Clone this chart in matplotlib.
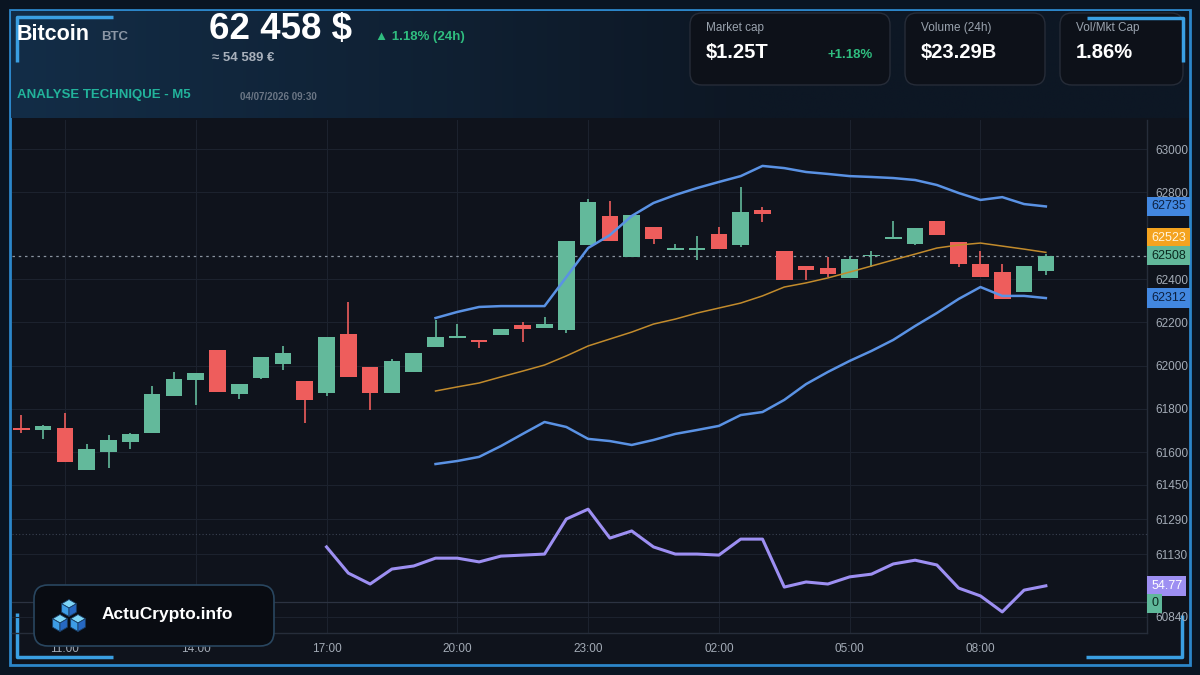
import numpy as np
import matplotlib
matplotlib.use('Agg')
import matplotlib.pyplot as plt
from matplotlib.patches import FancyBboxPatch, Polygon, Rectangle

plt.rcParams['font.family'] = ['Liberation Sans', 'DejaVu Sans']

# ---------------- data ----------------
times = ["10:00", "10:30", "11:00", "11:30", "12:00", "12:30", "13:00", "13:30",
         "14:00", "14:30", "15:00", "15:30", "16:00", "16:30", "17:00", "17:30",
         "18:00", "18:30", "19:00", "19:30", "20:00", "20:30", "21:00", "21:30",
         "22:00", "22:30", "23:00", "23:30", "00:00", "00:30", "01:00", "01:30",
         "02:00", "02:30", "03:00", "03:30", "04:00", "04:30", "05:00", "05:30",
         "06:00", "06:30", "07:00", "07:30", "08:00", "08:30", "09:00", "09:30"]

opens = [61712, 61703, 61712, 61519, 61602, 61648, 61689, 61860, 61934, 62072,
         61869, 61943, 62008, 61929, 61874, 62146, 61994, 61874, 61971, 62086,
         62128, 62119, 62142, 62188, 62174, 62165, 62557, 62691, 62502, 62640,
         62534, 62538, 62608, 62557, 62718, 62529, 62460, 62451, 62405, 62506,
         62589, 62562, 62668, 62571, 62469, 62432, 62340, 62437]
highs = [61772, 61725, 61782, 61639, 61680, 61689, 61906, 61971, 61966, 62072,
         61915, 62040, 62091, 61929, 62132, 62294, 61994, 62031, 62059, 62211,
         62192, 62119, 62169, 62202, 62225, 62575, 62769, 62760, 62695, 62640,
         62562, 62598, 62640, 62825, 62732, 62529, 62460, 62502, 62506, 62529,
         62668, 62635, 62668, 62571, 62529, 62469, 62460, 62515]
lows = [61689, 61662, 61556, 61519, 61528, 61615, 61689, 61860, 61819, 61878,
        61846, 61938, 61980, 61735, 61860, 61948, 61795, 61874, 61971, 62086,
        62128, 62082, 62142, 62109, 62174, 62151, 62557, 62575, 62502, 62562,
        62534, 62488, 62538, 62548, 62663, 62395, 62395, 62409, 62405, 62455,
        62589, 62557, 62603, 62455, 62409, 62308, 62340, 62419]
closes = [61705, 61722, 61556, 61615, 61657, 61685, 61869, 61938, 61966, 61878,
          61915, 62040, 62059, 61842, 62132, 61948, 61874, 62022, 62059, 62132,
          62137, 62109, 62169, 62169, 62192, 62575, 62755, 62575, 62695, 62585,
          62543, 62543, 62538, 62709, 62700, 62395, 62442, 62423, 62492, 62511,
          62594, 62635, 62603, 62469, 62409, 62308, 62460, 62508]

nan = np.nan
bb_upper = [nan] * 19 + [62220, 62248, 62271, 62275, 62275, 62275, 62409, 62543,
                         62603, 62691, 62751, 62788, 62820, 62848, 62875, 62922,
                         62912, 62894, 62885, 62875, 62871, 62866, 62857, 62834,
                         62797, 62765, 62778, 62746, 62735]
bb_middle = [nan] * 19 + [61883, 61902, 61920, 61948, 61975, 62003, 62045, 62091,
                          62123, 62155, 62192, 62215, 62243, 62266, 62289, 62322,
                          62363, 62382, 62405, 62432, 62460, 62488, 62515, 62543,
                          62557, 62566, 62552, 62538, 62523]
bb_lower = [nan] * 19 + [61546, 61560, 61579, 61629, 61685, 61740, 61717, 61662,
                         61652, 61634, 61657, 61685, 61703, 61722, 61772, 61786,
                         61842, 61915, 61971, 62022, 62068, 62119, 62183, 62243,
                         62308, 62363, 62322, 62322, 62312]
rsi = [nan] * 14 + [66.2, 58.5, 55.3, 59.7, 60.6, 62.9, 62.9, 61.8, 63.5, 63.8,
                    64.1, 74.4, 77.3, 68.8, 70.9, 66.2, 64.1, 64.1, 63.8, 68.5,
                    68.5, 54.4, 55.9, 55.3, 57.4, 58.2, 61.2, 62.3, 60.9, 54.1,
                    51.8, 47.1, 53.5, 54.77]

y_ticks = [63000, 62800, 62400, 62200, 62000, 61800, 61600, 61450, 61290, 61130, 60840]
x_tick_labels = ["11:00", "14:00", "17:00", "20:00", "23:00", "02:00", "05:00", "08:00"]
last_price = 62508

# ---------------- style ----------------
GREEN = '#63b99b'
RED = '#ee5d5c'
BLUE = '#5a92e4'
ORANGE = '#c28b2c'
PURPLE = '#9d8ff2'
TXT = '#a3abb6'
PANEL = '#0f131c'

fig = plt.figure(figsize=(12, 6.75), dpi=100, facecolor='#0a1522')

# background / decoration axes in pixel coordinates
bg = fig.add_axes([0, 0, 1, 1], zorder=0)
bg.set_xlim(0, 1200)
bg.set_ylim(675, 0)
bg.axis('off')

bg.add_patch(Rectangle((10, 10), 1180, 655, fc=PANEL, ec='#2c86c9', lw=2))
# header gradient
c1 = np.array([0x13, 0x2d, 0x47]) / 255
c2 = np.array([0x0d, 0x17, 0x24]) / 255
t = np.clip(np.linspace(0, 1.6, 400), 0, 1)[None, :, None]
grad = c1 * (1 - t) + c2 * t
bg.imshow(grad, extent=(11, 1189, 118, 11), aspect='auto', zorder=1)

# corner accents
acc = dict(color='#3a9fe2', lw=2.5, solid_capstyle='butt', zorder=3)
bg.plot([113, 17, 17], [17, 17, 62], **acc)
bg.plot([1087, 1183, 1183], [18, 18, 62], **acc)
bg.plot([17, 17, 113], [613, 657, 657], **acc)
bg.plot([1086, 1182, 1182], [657, 657, 615], **acc)

# header texts
bg.text(17, 35, "Bitcoin", color='white', fontsize=15.5, fontweight='bold', va='center', zorder=4)
bg.text(101, 37, "BTC", color='#8b96a5', fontsize=9.5, fontweight='bold', va='center', zorder=4)
bg.text(209, 30, "62 458 $", color='white', fontsize=26.5, fontweight='bold', va='center', zorder=4)
bg.text(375, 37, "▲ 1.18% (24h)", color='#2fbd7f', fontsize=9.5, fontweight='bold', va='center', zorder=4)
bg.text(212, 58, "≈ 54 589 €", color='#a9b1bc', fontsize=9.5, fontweight='bold', va='center', zorder=4)
bg.text(17, 95, "ANALYSE TECHNIQUE - M5", color='#22b39b', fontsize=9.5, fontweight='bold', va='center', zorder=4)
bg.text(240, 97, "04/07/2026 09:30", color='#6b7685', fontsize=7, fontweight='bold', va='center', zorder=4)

# stat cards
cards = [
    (690, 200, "Market cap", "$1.25T", "+1.18%"),
    (905, 140, "Volume (24h)", "$23.29B", None),
    (1060, 123, "Vol/Mkt Cap", "1.86%", None),
]
for cx, cw, lab, val, chg in cards:
    bg.add_patch(FancyBboxPatch((cx, 13), cw, 72, boxstyle='round,pad=0,rounding_size=12',
                                fc='#0d1119', ec='#262c38', lw=1, zorder=2))
    bg.text(cx + 16, 28, lab, color='#9aa3ae', fontsize=8.5, va='center', zorder=4)
    bg.text(cx + 16, 53, val, color='white', fontsize=14.5, fontweight='bold', va='center', zorder=4)
    if chg:
        bg.text(cx + cw - 17, 55, chg, color='#2fbd7f', fontsize=9.5, fontweight='bold',
                va='center', ha='right', zorder=4)

# ---------------- main price chart ----------------
L, R, T, B = 12, 1147, 120, 633
ax = fig.add_axes([L / 1200, (675 - B) / 675, (R - L) / 1200, (B - T) / 675], zorder=1)
ax.set_facecolor('none')

x = np.arange(len(times))
o = np.array(opens, float)
h = np.array(highs, float)
l = np.array(lows, float)
c = np.array(closes, float)
up = c >= o
cols = np.where(up, GREEN, RED)
body_h = np.maximum(np.abs(c - o), 9)
body_b = (o + c) / 2 - body_h / 2

ax.vlines(x, l, h, colors=cols, lw=1.2, zorder=3)
ax.bar(x, body_h, bottom=body_b, width=0.76, color=cols, edgecolor='none', zorder=4)

ax.plot(x, bb_upper, color=BLUE, lw=1.8, zorder=5)
ax.plot(x, bb_lower, color=BLUE, lw=1.8, zorder=5)
ax.plot(x, bb_middle, color=ORANGE, lw=1.1, zorder=5)

ax.axhline(last_price, color='#8a93a0', lw=0.9, ls=(0, (2, 3)), zorder=2)

ax.set_xlim(-0.43, 51.64)
ax.set_ylim(60766, 63134)
ax.set_xticks([times.index(tl) for tl in x_tick_labels])
ax.set_xticklabels(x_tick_labels)
ax.grid(True, color='#1c222e', lw=0.8, zorder=0)
ax.set_axisbelow(True)
for s in ['top', 'left']:
    ax.spines[s].set_visible(False)
for s in ['right', 'bottom']:
    ax.spines[s].set_color('#262d3a')
    ax.spines[s].set_linewidth(1)

# RSI pane on twin axis
ax2 = ax.twinx()
ax2.set_ylim(40.9, 191.7)
ax2.plot(x, rsi, color=PURPLE, lw=2.2, zorder=5)
ax2.axhline(70, color='#3a4252', lw=0.8, ls=(0, (1, 2)))
ax2.axhline(50, color='#2c3342', lw=0.9)
ax2.set_yticks([])
for s in ax2.spines.values():
    s.set_visible(False)

# price scale on the right (after twinx, which resets tick side)
ax.set_yticks(y_ticks)
ax.yaxis.tick_right()
ax.tick_params(axis='y', which='both', left=False, right=False, labelleft=False,
               labelright=True, length=0, pad=6, labelsize=8.5, labelcolor=TXT)
ax.tick_params(axis='x', length=0, pad=7, labelsize=8.5, labelcolor=TXT)


def badge(axis, value, label, fc, tc, dy=0):
    axis.annotate(label, xy=(1, value), xycoords=('axes fraction', 'data'),
                  xytext=(3, dy), textcoords='offset points', ha='left', va='center',
                  fontsize=9, color=tc,
                  bbox=dict(boxstyle='square,pad=0.3', fc=fc, ec='none'),
                  annotation_clip=False, zorder=10)


badge(ax, bb_upper[-1], f"{bb_upper[-1]:.0f}", '#4287e0', '#0d2142')
badge(ax, bb_middle[-1], f"{bb_middle[-1]:.0f}", '#f4a31f', '#fff4dc', dy=10.5)
badge(ax, last_price, f"{last_price:.0f}", '#62b89a', '#0b2a20')
badge(ax, bb_lower[-1], f"{bb_lower[-1]:.0f}", '#4287e0', '#0d2142')
badge(ax2, rsi[-1], f"{rsi[-1]:.2f}", PURPLE, 'white')
badge(ax2, 50, "0", '#5fb89a', '#0b2a20', dy=-1)

# ---------------- logo overlay ----------------
top = fig.add_axes([0, 0, 1, 1], zorder=5)
top.set_xlim(0, 1200)
top.set_ylim(675, 0)
top.axis('off')
top.patch.set_visible(False)
top.add_patch(FancyBboxPatch((34, 585), 240, 61, boxstyle='round,pad=0,rounding_size=14',
                             fc='#090c12', ec='#29465f', lw=1.2))


def cube(cx, cy, s):
    k = 0.866 * s
    tp, ur, lr = (cx, cy - s), (cx + k, cy - s / 2), (cx + k, cy + s / 2)
    bt, ll, ul, ce = (cx, cy + s), (cx - k, cy + s / 2), (cx - k, cy - s / 2), (cx, cy)
    top.add_patch(Polygon([tp, ur, ce, ul], fc='#7fd6f7', ec='#1a3f66', lw=0.6))
    top.add_patch(Polygon([ul, ce, bt, ll], fc='#3d9de6', ec='#1a3f66', lw=0.6))
    top.add_patch(Polygon([ce, ur, lr, bt], fc='#2668c2', ec='#1a3f66', lw=0.6))


cube(69, 608, 8.5)
cube(60, 623, 8.5)
cube(78, 623, 8.5)
top.text(102, 614, "ActuCrypto.info", color='white', fontsize=12.5, fontweight='bold', va='center')

fig.savefig('out.png', dpi=100, facecolor=fig.get_facecolor())
